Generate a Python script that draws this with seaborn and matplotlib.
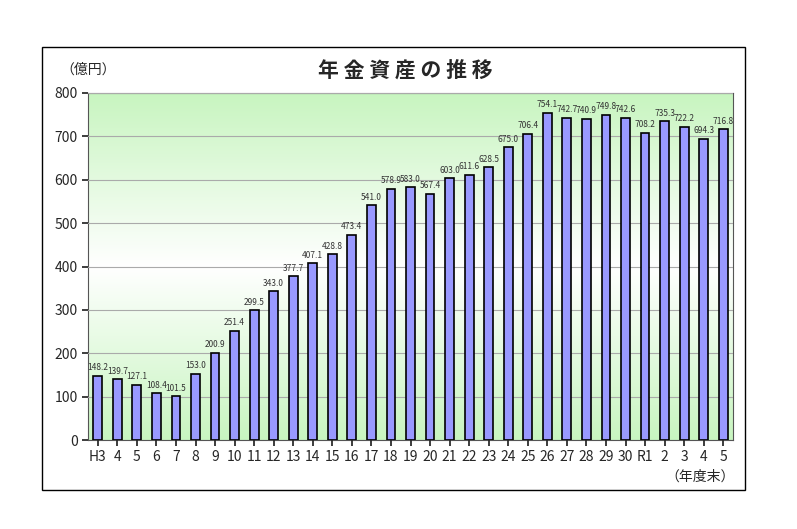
import matplotlib.pyplot as plt
import numpy as np
import pandas as pd
import seaborn as sns
from matplotlib.patches import Rectangle
from matplotlib.colors import LinearSegmentedColormap

sns.set_theme(style="white")
plt.rcParams["font.family"] = ["Noto Sans CJK JP", "DejaVu Sans"]

years = ["H3", "4", "5", "6", "7", "8", "9", "10", "11", "12", "13", "14", "15", "16",
         "17", "18", "19", "20", "21", "22", "23", "24", "25", "26", "27", "28", "29",
         "30", "R1", "2", "3", "4", "5"]
assets = [148.2, 139.7, 127.1, 108.4, 101.5, 153.0, 200.9, 251.4, 299.5, 343.0, 377.7,
          407.1, 428.8, 473.4, 541.0, 578.9, 583.0, 567.4, 603.0, 611.6, 628.5, 675.0,
          706.4, 754.1, 742.7, 740.9, 749.8, 742.6, 708.2, 735.3, 722.2, 694.3, 716.8]

df = pd.DataFrame({"pos": range(len(years)), "year": years, "value": assets})

fig = plt.figure(figsize=(7.97, 5.29), dpi=100)
fig.add_artist(Rectangle((42 / 797, 1 - 490 / 529), 703 / 797, 443 / 529,
                         transform=fig.transFigure, fill=False, edgecolor="black", lw=1))
ax = fig.add_axes([88 / 797, 1 - 440 / 529, 645 / 797, 347 / 529])

# background gradient: green top, white middle, green bottom
cmap = LinearSegmentedColormap.from_list("g", ["#c8f5c0", "#ffffff", "#c8f5c0"])
grad = np.linspace(0, 1, 256).reshape(-1, 1)
ax.imshow(grad, aspect="auto", cmap=cmap, extent=(-0.5, len(years) - 0.5, 0, 800),
          origin="lower", zorder=0)

sns.barplot(data=df, x="pos", y="value", color="#9999ff", edgecolor="black",
            linewidth=1.2, width=0.45, saturation=1, ax=ax, zorder=3)

for i, v in enumerate(assets):
    ax.text(i, v + 8, f"{v:.1f}", ha="center", va="bottom", fontsize=6,
            color="#333333", zorder=4)

ax.set_xlim(-0.5, len(years) - 0.5)
ax.set_ylim(0, 800)
ax.set_yticks(range(0, 801, 100))
ax.set_xticks(range(len(years)))
ax.set_xticklabels(years, fontsize=10)
ax.tick_params(axis="y", labelsize=10, left=True, length=4)
ax.tick_params(axis="x", bottom=True, length=4)
ax.yaxis.grid(True, color="#aaaaaa", lw=0.8, zorder=1)
ax.set_axisbelow(False)
for s in ax.spines.values():
    s.set_color("#555555")
    s.set_linewidth(0.8)
ax.set_xlabel("")
ax.set_ylabel("")

fig.text(88 / 797, 1 - 70 / 529, "（億円）", ha="center", va="center", fontsize=10)
fig.text(405 / 797, 1 - 70 / 529, "年 金 資 産 の 推 移", ha="center", va="center",
         fontsize=15, fontweight="bold")
fig.text(700 / 797, 1 - 477 / 529, "（年度末）", ha="center", va="center", fontsize=10)

fig.savefig("out.png", dpi=100)
